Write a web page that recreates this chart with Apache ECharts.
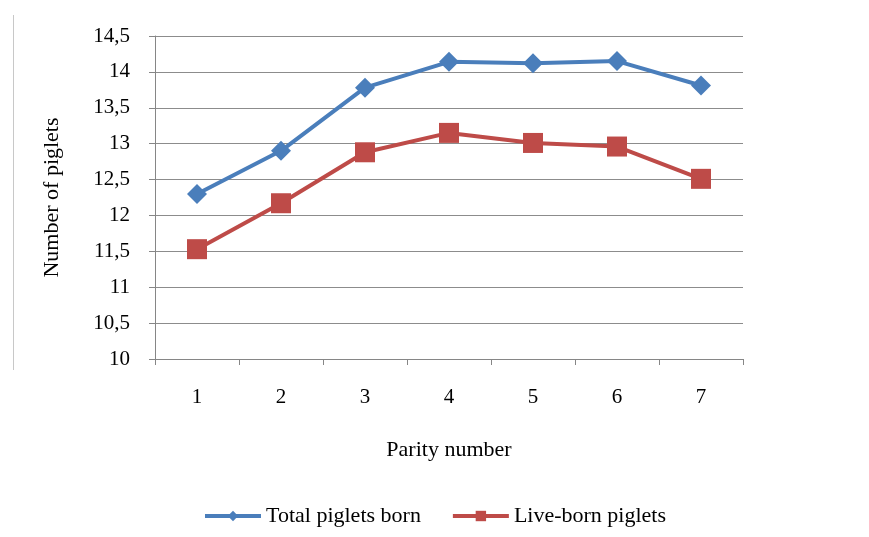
<!DOCTYPE html>
<html>
<head>
<meta charset="utf-8">
<script src="https://cdn.jsdelivr.net/npm/echarts@6/dist/echarts.min.js"></script>
<style>html,body{margin:0;padding:0;background:#fff}#c{width:869px;height:537px}</style>
</head>
<body>
<div id="c"></div>
<script>
const categories = ['1','2','3','4','5','6','7'];
const totalBorn = [12.3, 12.9, 13.78, 14.14, 14.12, 14.15, 13.81];
const liveBorn = [11.53, 12.17, 12.88, 13.15, 13.01, 12.96, 12.51];
const seriesNames = ['Total piglets born', 'Live-born piglets'];
const yMin = 10, yMax = 14.5, yStep = 0.5;

const font = '"Liberation Serif", "DejaVu Serif", serif';
const chart = echarts.init(document.getElementById('c'));
chart.setOption({
  animation: false,
  textStyle: { fontFamily: font },
  graphic: [{
    type: 'line', shape: { x1: 13.5, y1: 15, x2: 13.5, y2: 370 },
    style: { stroke: '#c8c8c8', lineWidth: 1 }
  }],
  grid: { left: 155, right: 126, top: 36, bottom: 178, containLabel: false },
  legend: {
    bottom: 5, left: 'center',
    itemWidth: 56, itemHeight: 13, itemGap: 30,
    lineStyle: { width: 4 },
    textStyle: { fontFamily: font, fontSize: 22, color: '#000' },
    data: seriesNames
  },
  xAxis: {
    type: 'category', data: categories, boundaryGap: true,
    name: 'Parity number', nameLocation: 'middle', nameGap: 80,
    nameTextStyle: { fontFamily: font, fontSize: 22, color: '#000' },
    axisLine: { lineStyle: { color: '#868686', width: 1 } },
    axisTick: { show: true, alignWithLabel: false, length: 6, lineStyle: { color: '#868686' } },
    axisLabel: { fontFamily: font, fontSize: 21, color: '#000', margin: 28 }
  },
  yAxis: {
    type: 'value', min: yMin, max: yMax, interval: yStep,
    name: 'Number of piglets', nameLocation: 'middle', nameGap: 92, nameRotate: 90,
    nameTextStyle: { fontFamily: font, fontSize: 22, color: '#000' },
    axisLine: { show: true, lineStyle: { color: '#868686', width: 1 } },
    axisTick: { show: true, length: 6, lineStyle: { color: '#868686' } },
    splitLine: { lineStyle: { color: '#8c8c8c', width: 1 } },
    axisLabel: { fontFamily: font, fontSize: 21, color: '#000', margin: 25,
      formatter: v => String(v).replace('.', ',') }
  },
  series: [{
    name: seriesNames[0], type: 'line', data: totalBorn,
    symbol: 'diamond', symbolSize: 20,
    lineStyle: { color: '#4a7ebb', width: 4 },
    itemStyle: { color: '#4a7ebb' }
  }, {
    name: seriesNames[1], type: 'line', data: liveBorn,
    symbol: 'rect', symbolSize: 20,
    lineStyle: { color: '#be4b48', width: 4 },
    itemStyle: { color: '#be4b48' }
  }]
});
</script>
</body>
</html>
